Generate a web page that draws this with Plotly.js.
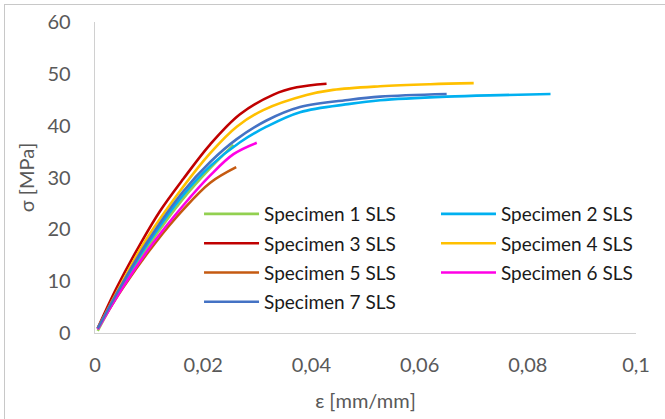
<!DOCTYPE html>
<html>
<head>
<meta charset="utf-8">
<script src="https://cdn.plot.ly/plotly-3.0.1.min.js"></script>
<style>
  html, body { margin: 0; padding: 0; background: #fff; overflow: hidden; }
  #frame { position: absolute; left: 4px; top: 4px; width: 800px; height: 600px; border: 1px solid #c8c8c8; box-sizing: border-box; }
  #chart { position: absolute; left: 0; top: 0; width: 665px; height: 419px; }
</style>
</head>
<body>
<div id="frame"></div>
<div id="chart"></div>
<script>
// ---- data ----
const seriesNames = ["Specimen 1 SLS","Specimen 2 SLS","Specimen 3 SLS","Specimen 4 SLS","Specimen 5 SLS","Specimen 6 SLS","Specimen 7 SLS"];
const seriesColors = ["#92D050","#00B0F0","#C00000","#FFC000","#C55A11","#FF00E6","#4472C4"];
const legendColumn = ["legend","legend2","legend","legend2","legend","legend2","legend"];

const eps1 = [0.0005,0.005,0.0102,0.0163,0.0213,0.0256];
const sig1 = [0.4,8.9,17.3,25.9,31.8,36.3];

const eps2 = [0.0005,0.0048,0.0098,0.0163,0.0213,0.0268,0.0317,0.0379,0.0471,0.0527,0.065,0.0749,0.0842];
const sig2 = [0.8,8.9,17.3,26.6,32.2,36.8,39.8,42.6,44.2,44.9,45.6,45.9,46.1];

const eps3 = [0.0005,0.004,0.0086,0.012,0.0163,0.0213,0.0268,0.033,0.0373,0.0428];
const sig3 = [0.9,8.7,17.6,23.5,29.7,36.4,42.2,46.0,47.4,48.1];

const eps4 = [0.0005,0.0045,0.0092,0.0163,0.0213,0.0262,0.0311,0.0391,0.044,0.0527,0.062,0.070];
const sig4 = [0.8,8.8,17.6,28.2,34.7,39.8,43.0,45.9,46.9,47.6,48.0,48.2];

const eps5 = [0.0005,0.0053,0.011,0.0163,0.0213,0.0261];
const sig5 = [0.9,8.9,17.2,23.8,29.0,32.0];

const eps6 = [0.0005,0.0052,0.0107,0.0163,0.0213,0.0256,0.0299];
const sig6 = [0.7,8.9,17.3,24.6,30.4,34.5,36.7];

const eps7 = [0.0005,0.0047,0.0095,0.0163,0.0213,0.0262,0.0317,0.0379,0.0471,0.0527,0.065];
const sig7 = [0.9,8.9,17.3,27.3,33.0,37.4,41.0,43.6,45.0,45.6,46.1];

const xTickVals = [0,0.02,0.04,0.06,0.08,0.1];
const xTickText = ["0","0,02","0,04","0,06","0,08","0,1"];
const yTickVals = [0,10,20,30,40,50,60];
const yTickText = ["0","10","20","30","40","50","60"];

const xs = [eps1,eps2,eps3,eps4,eps5,eps6,eps7];
const ys = [sig1,sig2,sig3,sig4,sig5,sig6,sig7];

const FONT = "Lato, 'Open Sans', sans-serif";

const traces = seriesNames.map((n,i) => ({
  x: xs[i], y: ys[i], name: n, type: 'scatter', mode: 'lines',
  legend: legendColumn[i], legendgroup: 'g' + i,
  line: {color: seriesColors[i], width: 2.6, shape: 'spline', smoothing: 1}
}));

const legendCommon = {
  orientation: 'v', traceorder: 'grouped', tracegroupgap: 1.6,
  xanchor: 'left', yanchor: 'top', y: 0.4435,
  itemwidth: 55,
  font: {family: FONT, size: 19, color: '#1a1a1a'},
  bgcolor: 'rgba(0,0,0,0)'
};

const layout = {
  width: 665, height: 419,
  margin: {l: 95, r: 29, t: 22, b: 86},
  paper_bgcolor: 'rgba(0,0,0,0)',
  plot_bgcolor: 'rgba(0,0,0,0)',
  showlegend: true,
  legend: Object.assign({}, legendCommon, {x: 0.1923}),
  legend2: Object.assign({}, legendCommon, {x: 0.6303}),
  xaxis: {
    range: [0, 0.1], tickvals: xTickVals, ticktext: xTickText,
    showgrid: false, zeroline: false, showline: true, linecolor: '#d0d0d0', linewidth: 1.3,
    ticks: '', ticklabelstandoff: 14,
    tickfont: {family: FONT, size: 20, color: '#595959'},
    title: {text: 'ε [mm/mm]', standoff: 18, font: {family: FONT, size: 20, color: '#595959'}},
    automargin: false
  },
  yaxis: {
    range: [0, 60], tickvals: yTickVals, ticktext: yTickText,
    showgrid: false, zeroline: false, showline: true, linecolor: '#d0d0d0', linewidth: 1.3,
    ticks: '', ticklabelstandoff: 19,
    tickfont: {family: FONT, size: 20, color: '#595959'},
    title: {text: 'σ [MPa]', standoff: 7, font: {family: FONT, size: 20, color: '#595959'}},
    automargin: false
  }
};

Plotly.newPlot('chart', traces, layout, {displayModeBar: false, staticPlot: true});
</script>
</body>
</html>
